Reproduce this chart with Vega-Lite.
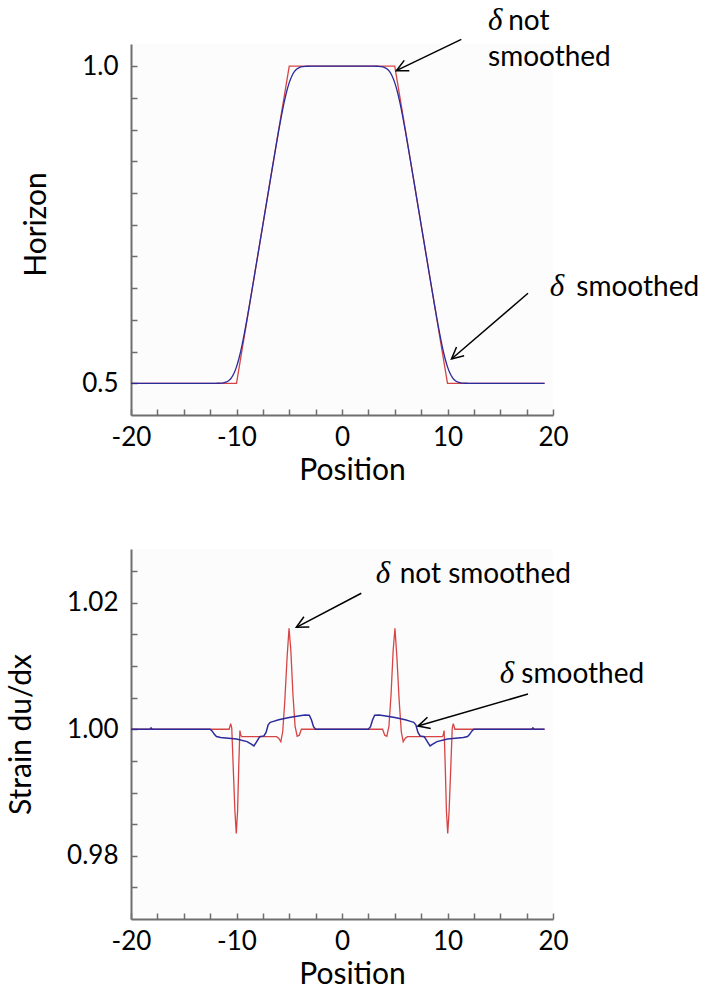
{
  "$schema": "https://vega.github.io/schema/vega-lite/v6.json",
  "padding": {"left": 6, "top": 4, "right": 2, "bottom": 2},
  "background": "white",
  "bounds": "flush",
  "spacing": 134,
  "config": {
    "view": {"stroke": null, "fill": "#fcfcfc"},
    "axis": {
      "grid": false,
      "domainColor": "#6e6e6e",
      "domainWidth": 2,
      "tickColor": "#6e6e6e",
      "tickWidth": 1.5,
      "tickSize": -6,
      "tickCount": 100,
      "labelFlush": false,
      "labelOverlap": false,
      "labelFont": "Lato",
      "labelFontSize": 26,
      "labelColor": "#000000",
      "titleFont": "Lato",
      "titleFontSize": 30,
      "titleFontWeight": "normal",
      "titleColor": "#000000"
    }
  },
  "vconcat": [
    {
      "width": 422,
      "height": 371,
      "layer": [
        {
          "data": {"values": [
            {"x": -20, "y": 0.5}, {"x": -10, "y": 0.5}, {"x": -5, "y": 1.0}, {"x": 5, "y": 1.0}, {"x": 10, "y": 0.5}, {"x": 19.2, "y": 0.5}
          ]},
          "mark": {"type": "line", "color": "#d64545", "strokeWidth": 1.3},
          "encoding": {
            "x": {"field": "x", "type": "quantitative", "scale": {"domain": [-20, 20], "nice": false, "zero": false},
              "axis": {"title": "Position", "titleX": 221, "tickCount": 100, "labelOverlap": false, "values": [-20, -17.5, -15, -12.5, -10, -7.5, -5, -2.5, 0, 2.5, 5, 7.5, 10, 12.5, 15, 17.5, 20],
                "labelExpr": "datum.value % 10 == 0 ? '' + datum.value : ''", "labelPadding": 15, "titlePadding": 5}},
            "y": {"field": "y", "type": "quantitative", "scale": {"domain": [0.45, 1.035], "nice": false, "zero": false},
              "axis": {"title": "Horizon", "titleY": 180, "tickCount": 100, "labelOverlap": false, "values": [0.5, 0.55, 0.6, 0.65, 0.7, 0.75, 0.8, 0.85, 0.9, 0.95, 1.0],
                "labelExpr": "datum.value == 0.5 || datum.value == 1 ? format(datum.value, '.1f') : ''", "labelPadding": 19, "titlePadding": 30}}
          }
        },
        {
          "data": {"values": [
            {"x": -20, "y": 0.5}, {"x": -12, "y": 0.5}, {"x": -11.75, "y": 0.50007}, {"x": -11.5, "y": 0.50023}, {"x": -11.25, "y": 0.50068}, {"x": -11, "y": 0.50175}, {"x": -10.75, "y": 0.504}, {"x": -10.5, "y": 0.50825}, {"x": -10.25, "y": 0.51533}, {"x": -10, "y": 0.52593}, {"x": -9.75, "y": 0.54033}, {"x": -9.5, "y": 0.55825}, {"x": -9.25, "y": 0.579}, {"x": -9, "y": 0.60175}, {"x": -8.75, "y": 0.62568}, {"x": -8.5, "y": 0.65023}, {"x": -8.25, "y": 0.67507}, {"x": -8, "y": 0.7}, {"x": -7.5, "y": 0.75}, {"x": -7, "y": 0.8}, {"x": -6.75, "y": 0.82493}, {"x": -6.5, "y": 0.84977}, {"x": -6.25, "y": 0.87432}, {"x": -6, "y": 0.89825}, {"x": -5.75, "y": 0.921}, {"x": -5.5, "y": 0.94175}, {"x": -5.25, "y": 0.95968}, {"x": -5, "y": 0.97407}, {"x": -4.75, "y": 0.98468}, {"x": -4.5, "y": 0.99175}, {"x": -4.25, "y": 0.996}, {"x": -4, "y": 0.99825}, {"x": -3.75, "y": 0.99932}, {"x": -3.5, "y": 0.99977}, {"x": -3.25, "y": 0.99993}, {"x": -3, "y": 1.0},
            {"x": 3, "y": 1.0}, {"x": 3.25, "y": 0.99993}, {"x": 3.5, "y": 0.99977}, {"x": 3.75, "y": 0.99932}, {"x": 4, "y": 0.99825}, {"x": 4.25, "y": 0.996}, {"x": 4.5, "y": 0.99175}, {"x": 4.75, "y": 0.98468}, {"x": 5, "y": 0.97407}, {"x": 5.25, "y": 0.95968}, {"x": 5.5, "y": 0.94175}, {"x": 5.75, "y": 0.921}, {"x": 6, "y": 0.89825}, {"x": 6.25, "y": 0.87432}, {"x": 6.5, "y": 0.84977}, {"x": 6.75, "y": 0.82493}, {"x": 7, "y": 0.8}, {"x": 7.5, "y": 0.75}, {"x": 8, "y": 0.7}, {"x": 8.25, "y": 0.67507}, {"x": 8.5, "y": 0.65023}, {"x": 8.75, "y": 0.62568}, {"x": 9, "y": 0.60175}, {"x": 9.25, "y": 0.579}, {"x": 9.5, "y": 0.55825}, {"x": 9.75, "y": 0.54033}, {"x": 10, "y": 0.52593}, {"x": 10.25, "y": 0.51533}, {"x": 10.5, "y": 0.50825}, {"x": 10.75, "y": 0.504}, {"x": 11, "y": 0.50175}, {"x": 11.25, "y": 0.50068}, {"x": 11.5, "y": 0.50023}, {"x": 11.75, "y": 0.50007}, {"x": 12, "y": 0.5}, {"x": 19.2, "y": 0.5}
          ]},
          "mark": {"type": "line", "color": "#2a2a9c", "strokeWidth": 1.3, "interpolate": "monotone"},
          "encoding": {
            "x": {"field": "x", "type": "quantitative"},
            "y": {"field": "y", "type": "quantitative"}
          }
        },
        {
          "data": {"values": [
            {"x": 11.31, "y": 1.0424, "x2": 5.15, "y2": 0.9929, "angle": 154.2},
            {"x": 17.63, "y": 0.6419, "x2": 10.38, "y2": 0.5383, "angle": 139.3}
          ]},
          "layer": [
            {"mark": {"type": "rule", "color": "#000000", "strokeWidth": 1.5},
             "encoding": {"x": {"field": "x", "type": "quantitative"}, "y": {"field": "y", "type": "quantitative"}, "x2": {"field": "x2"}, "y2": {"field": "y2"}}},
            {"mark": {"type": "point", "shape": "M -1 -0.5 L 0 0 L -1 0.5", "filled": false, "color": "#000000", "strokeWidth": 1.5, "size": 540, "opacity": 1},
             "encoding": {"x": {"field": "x2", "type": "quantitative"}, "y": {"field": "y2", "type": "quantitative"}, "angle": {"field": "angle", "type": "quantitative", "scale": null}}}
          ]
        },
        {
          "data": {"values": [
            {"x": 13.84, "y": 1.0571, "t": "δ"},
            {"x": 19.69, "y": 0.6377, "t": "δ"}
          ]},
          "mark": {"type": "text", "font": "Liberation Serif", "fontStyle": "italic", "fontSize": 31, "align": "left", "baseline": "alphabetic", "color": "#000000"},
          "encoding": {"x": {"field": "x", "type": "quantitative"}, "y": {"field": "y", "type": "quantitative"}, "text": {"field": "t"}}
        },
        {
          "data": {"values": [
            {"x": 15.75, "y": 1.0571, "t": "not"},
            {"x": 13.84, "y": 1.0003, "t": "smoothed"},
            {"x": 22.21, "y": 0.6377, "t": "smoothed"}
          ]},
          "mark": {"type": "text", "font": "Lato", "fontSize": 28, "align": "left", "baseline": "alphabetic", "color": "#000000"},
          "encoding": {"x": {"field": "x", "type": "quantitative"}, "y": {"field": "y", "type": "quantitative"}, "text": {"field": "t"}}
        }
      ]
    },
    {
      "width": 422,
      "height": 370,
      "layer": [
        {
          "data": {"values": [
            {"x": -20, "y": 1.0}, {"x": -10.7, "y": 1.0}, {"x": -10.55, "y": 1.0009}, {"x": -10.45, "y": 1.0002}, {"x": -10.3, "y": 0.9935}, {"x": -10.15, "y": 0.987}, {"x": -10.02, "y": 0.98354}, {"x": -9.9, "y": 0.987}, {"x": -9.78, "y": 0.9945}, {"x": -9.68, "y": 0.9998}, {"x": -9.58, "y": 0.999}, {"x": -9.5, "y": 0.99883}, {"x": -6.2, "y": 0.99883}, {"x": -6.0, "y": 0.9986}, {"x": -5.8, "y": 0.99804}, {"x": -5.62, "y": 0.9996}, {"x": -5.42, "y": 1.0045}, {"x": -5.2, "y": 1.0115}, {"x": -5.02, "y": 1.01598}, {"x": -4.85, "y": 1.0125}, {"x": -4.65, "y": 1.0055}, {"x": -4.45, "y": 1.0005}, {"x": -4.25, "y": 0.9989}, {"x": -4.05, "y": 0.99905}, {"x": -3.85, "y": 1.0},
            {"x": 3.85, "y": 1.0}, {"x": 4.05, "y": 0.99905}, {"x": 4.25, "y": 0.9989}, {"x": 4.45, "y": 1.0005}, {"x": 4.65, "y": 1.0055}, {"x": 4.85, "y": 1.0125}, {"x": 5.02, "y": 1.01598}, {"x": 5.2, "y": 1.0115}, {"x": 5.42, "y": 1.0045}, {"x": 5.62, "y": 0.9996}, {"x": 5.8, "y": 0.99804}, {"x": 6.0, "y": 0.9986}, {"x": 6.2, "y": 0.99883}, {"x": 9.5, "y": 0.99883}, {"x": 9.58, "y": 0.999}, {"x": 9.68, "y": 0.9998}, {"x": 9.78, "y": 0.9945}, {"x": 9.9, "y": 0.987}, {"x": 10.02, "y": 0.98354}, {"x": 10.15, "y": 0.987}, {"x": 10.3, "y": 0.9935}, {"x": 10.45, "y": 1.0002}, {"x": 10.55, "y": 1.0009}, {"x": 10.7, "y": 1.0}, {"x": 19.2, "y": 1.0}
          ]},
          "mark": {"type": "line", "color": "#d64545", "strokeWidth": 1.3},
          "encoding": {
            "x": {"field": "x", "type": "quantitative", "scale": {"domain": [-20, 20], "nice": false, "zero": false},
              "axis": {"title": "Position", "titleX": 221, "tickCount": 100, "labelOverlap": false, "values": [-20, -17.5, -15, -12.5, -10, -7.5, -5, -2.5, 0, 2.5, 5, 7.5, 10, 12.5, 15, 17.5, 20],
                "labelExpr": "datum.value % 10 == 0 ? '' + datum.value : ''", "labelPadding": 15, "titlePadding": 5}},
            "y": {"field": "y", "type": "quantitative", "scale": {"domain": [0.97, 1.0285], "nice": false, "zero": false},
              "axis": {"title": "Strain du/dx", "tickCount": 100, "labelOverlap": false, "values": [0.975, 0.98, 0.985, 0.99, 0.995, 1.0, 1.005, 1.01, 1.015, 1.02, 1.025],
                "labelExpr": "(format(datum.value, '.3f') == '0.980' || format(datum.value, '.3f') == '1.000' || format(datum.value, '.3f') == '1.020') ? format(datum.value, '.2f') : ''", "labelPadding": 19, "titlePadding": 30}}
          }
        },
        {
          "data": {"values": [
            {"x": -20, "y": 1.0}, {"x": -18.2, "y": 1.0}, {"x": -18.1, "y": 1.0002}, {"x": -18.0, "y": 1.0}, {"x": -12.5, "y": 1.0}, {"x": -12.3, "y": 0.9997}, {"x": -12.1, "y": 0.9992}, {"x": -11.9, "y": 0.99885}, {"x": -11.5, "y": 0.9987}, {"x": -11, "y": 0.99862}, {"x": -10, "y": 0.99845}, {"x": -9, "y": 0.99805}, {"x": -8.6, "y": 0.99765}, {"x": -8.35, "y": 0.99736}, {"x": -8.1, "y": 0.998}, {"x": -7.8, "y": 0.99883}, {"x": -7.4, "y": 0.99895}, {"x": -7.2, "y": 0.9995}, {"x": -7.0, "y": 1.0007}, {"x": -6.8, "y": 1.0011}, {"x": -6.5, "y": 1.00125}, {"x": -6, "y": 1.0015}, {"x": -5, "y": 1.00185}, {"x": -4, "y": 1.00215}, {"x": -3.5, "y": 1.00226}, {"x": -3.1, "y": 1.00222}, {"x": -2.9, "y": 1.0015}, {"x": -2.7, "y": 1.0004}, {"x": -2.5, "y": 1.0},
            {"x": 2.5, "y": 1.0}, {"x": 2.7, "y": 1.0004}, {"x": 2.9, "y": 1.0015}, {"x": 3.1, "y": 1.00222}, {"x": 3.5, "y": 1.00226}, {"x": 4, "y": 1.00215}, {"x": 5, "y": 1.00185}, {"x": 6, "y": 1.0015}, {"x": 6.5, "y": 1.00125}, {"x": 6.8, "y": 1.0011}, {"x": 7.0, "y": 1.0007}, {"x": 7.2, "y": 0.9995}, {"x": 7.4, "y": 0.99895}, {"x": 7.8, "y": 0.99883}, {"x": 8.1, "y": 0.998}, {"x": 8.35, "y": 0.99736}, {"x": 8.6, "y": 0.99765}, {"x": 9, "y": 0.99805}, {"x": 10, "y": 0.99845}, {"x": 11, "y": 0.99862}, {"x": 11.5, "y": 0.9987}, {"x": 11.9, "y": 0.99885}, {"x": 12.1, "y": 0.9992}, {"x": 12.3, "y": 0.9997}, {"x": 12.5, "y": 1.0}, {"x": 18.0, "y": 1.0}, {"x": 18.1, "y": 1.0002}, {"x": 18.2, "y": 1.0}, {"x": 19.2, "y": 1.0}
          ]},
          "mark": {"type": "line", "color": "#2a2a9c", "strokeWidth": 1.5},
          "encoding": {
            "x": {"field": "x", "type": "quantitative"},
            "y": {"field": "y", "type": "quantitative"}
          }
        },
        {
          "data": {"values": [
            {"x": 1.83, "y": 1.0215, "x2": -4.33, "y2": 1.01612, "angle": 152.4},
            {"x": 17.63, "y": 1.00557, "x2": 7.2, "y2": 1.0005, "angle": 163.8}
          ]},
          "layer": [
            {"mark": {"type": "rule", "color": "#000000", "strokeWidth": 1.5},
             "encoding": {"x": {"field": "x", "type": "quantitative"}, "y": {"field": "y", "type": "quantitative"}, "x2": {"field": "x2"}, "y2": {"field": "y2"}}},
            {"mark": {"type": "point", "shape": "M -1 -0.5 L 0 0 L -1 0.5", "filled": false, "color": "#000000", "strokeWidth": 1.5, "size": 540, "opacity": 1},
             "encoding": {"x": {"field": "x2", "type": "quantitative"}, "y": {"field": "y2", "type": "quantitative"}, "angle": {"field": "angle", "type": "quantitative", "scale": null}}}
          ]
        },
        {
          "data": {"values": [
            {"x": 3.19, "y": 1.02312, "t": "δ"},
            {"x": 14.95, "y": 1.00731, "t": "δ"}
          ]},
          "mark": {"type": "text", "font": "Liberation Serif", "fontStyle": "italic", "fontSize": 31, "align": "left", "baseline": "alphabetic", "color": "#000000"},
          "encoding": {"x": {"field": "x", "type": "quantitative"}, "y": {"field": "y", "type": "quantitative"}, "text": {"field": "t"}}
        },
        {
          "data": {"values": [
            {"x": 5.47, "y": 1.02312, "t": "not smoothed"},
            {"x": 17.0, "y": 1.00731, "t": "smoothed"}
          ]},
          "mark": {"type": "text", "font": "Lato", "fontSize": 28, "align": "left", "baseline": "alphabetic", "color": "#000000"},
          "encoding": {"x": {"field": "x", "type": "quantitative"}, "y": {"field": "y", "type": "quantitative"}, "text": {"field": "t"}}
        }
      ]
    }
  ]
}
